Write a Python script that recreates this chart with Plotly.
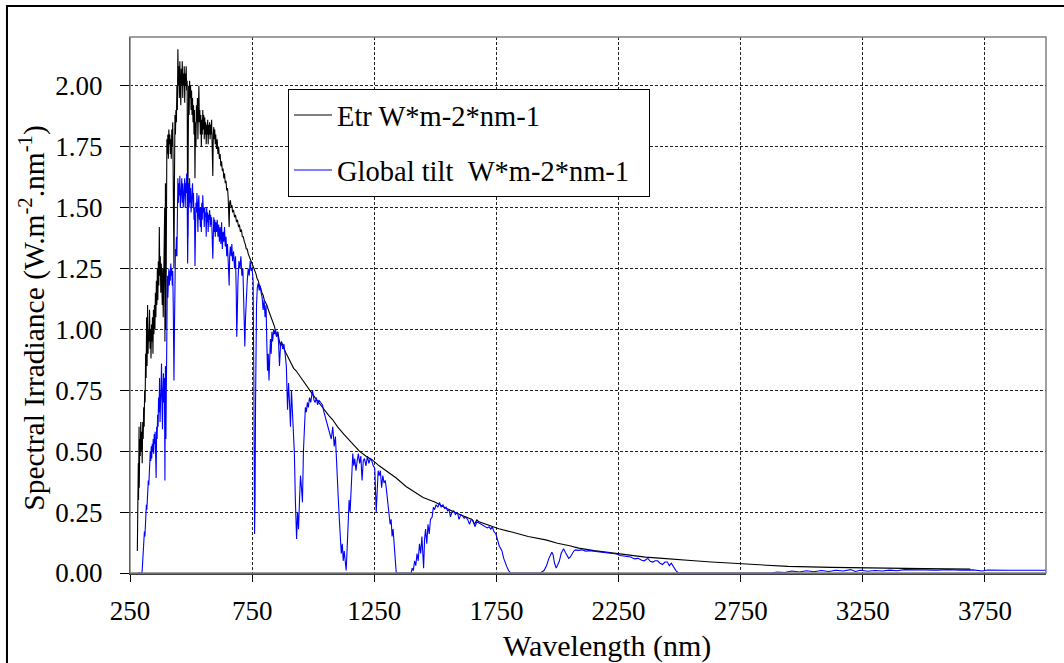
import plotly.graph_objects as go

# Extraterrestrial (ETR) spectrum, W*m-2*nm-1
etr_nm = [280, 281, 282, 284, 285, 287, 288, 290, 292, 294, 296, 298, 300, 302, 304, 306, 308, 310,
          312, 314, 316, 318, 320, 322, 324, 326, 328, 330, 332, 334, 336, 338, 340, 342, 344, 346,
          348, 350, 352, 354, 356, 358, 360, 362, 364, 366, 368, 370, 372, 374, 376, 378, 380, 382,
          384, 386, 388, 390, 392, 393, 395, 397, 399, 401, 403, 405, 407, 409, 411, 413, 415, 417,
          419, 421, 423, 425, 427, 429, 430, 432, 434, 436, 438, 440, 442, 444, 446, 448, 450, 452,
          454, 456, 458, 460, 462, 464, 466, 468, 470, 472, 474, 476, 478, 480, 482, 484, 486, 488,
          490, 492, 494, 496, 498, 500, 502, 504, 506, 508, 510, 512, 514, 516, 518, 520, 522, 524,
          526, 528, 530, 532, 534, 536, 538, 540, 542, 544, 546, 548, 550, 552, 554, 556, 558, 560,
          562, 564, 566, 568, 570, 572, 574, 576, 578, 580, 582, 584, 586, 588, 589, 591, 593, 595,
          597, 599, 601, 604, 607, 610, 613, 616, 619, 622, 625, 628, 631, 634, 637, 640, 643, 646,
          649, 652, 656, 658, 661, 664, 667, 670, 674, 678, 682, 686, 690, 694, 698, 702, 706, 710,
          714, 718, 722, 726, 730, 734, 738, 742, 746, 750, 755, 760, 765, 770, 775, 780, 785, 790,
          795, 800, 810, 820, 830, 842, 850, 855, 860, 866, 870, 880, 890, 903, 910, 920, 930, 940,
          950, 960, 970, 985, 1000, 1015, 1030, 1050, 1065, 1079, 1100, 1125, 1148, 1170, 1189, 1215,
          1242, 1270, 1300, 1340, 1380, 1405, 1450, 1500, 1544, 1600, 1650, 1660, 1670, 1679, 1720,
          1760, 1813, 1880, 1952, 2000, 2050, 2087, 2150, 2222, 2300, 2360, 2430, 2495, 2560, 2630,
          2711, 2822, 2944, 3120, 3340, 3500, 3690]
etr_val = [0.09, 0.25, 0.15, 0.45, 0.30, 0.60, 0.35, 0.55, 0.48, 0.62, 0.50, 0.58, 0.45, 0.62, 0.55,
           0.68, 0.60, 0.75, 0.70, 0.90, 0.80, 1.05, 0.85, 1.10, 0.90, 1.00, 0.95, 1.08, 0.92, 1.00,
           0.88, 1.02, 0.95, 1.05, 0.90, 1.08, 0.98, 1.10, 1.00, 1.15, 1.05, 1.20, 1.10, 1.25, 1.12,
           1.28, 1.18, 1.42, 1.22, 1.30, 1.15, 1.27, 1.20, 1.10, 1.25, 1.05, 1.20, 1.30, 1.50, 0.95,
           1.60, 1.00, 1.70, 1.78, 1.72, 1.80, 1.70, 1.82, 1.76, 1.80, 1.72, 1.78, 1.70, 1.82, 1.75,
           1.85, 1.70, 1.40, 1.25, 1.60, 1.88, 1.80, 1.90, 1.85, 2.00, 1.90, 2.15, 2.00, 2.08, 1.95,
           2.10, 2.00, 1.92, 2.07, 2.00, 2.10, 1.95, 2.05, 2.00, 2.08, 1.93, 2.05, 2.00, 2.08, 1.98,
           2.02, 1.38, 1.90, 2.00, 1.88, 2.02, 1.95, 2.00, 1.90, 1.98, 1.88, 1.95, 1.85, 1.92, 1.80,
           1.90, 1.62, 1.85, 1.75, 1.92, 1.85, 1.95, 1.78, 1.90, 2.00, 1.85, 1.90, 1.80, 1.88, 1.75,
           1.86, 1.80, 1.90, 1.82, 1.88, 1.78, 1.87, 1.80, 1.85, 1.76, 1.84, 1.80, 1.86, 1.76, 1.84,
           1.80, 1.85, 1.78, 1.84, 1.80, 1.86, 1.80, 1.72, 1.63, 1.80, 1.83, 1.78, 1.82, 1.76, 1.80,
           1.74, 1.78, 1.72, 1.75, 1.70, 1.72, 1.67, 1.69, 1.65, 1.66, 1.62, 1.64, 1.60, 1.61, 1.57,
           1.58, 1.54, 1.42, 1.52, 1.53, 1.50, 1.51, 1.48, 1.49, 1.46, 1.47, 1.44, 1.45, 1.42, 1.43,
           1.40, 1.41, 1.38, 1.38, 1.36, 1.35, 1.33, 1.33, 1.31, 1.30, 1.29, 1.28, 1.27, 1.26, 1.24,
           1.23, 1.21, 1.20, 1.18, 1.17, 1.15, 1.14, 1.12, 1.10, 1.07, 1.04, 1.01, 0.97, 0.99, 0.96,
           0.93, 0.95, 0.92, 0.90, 0.875, 0.86, 0.84, 0.83, 0.815, 0.80, 0.785, 0.77, 0.75, 0.73,
           0.71, 0.69, 0.66, 0.645, 0.63, 0.60, 0.57, 0.546, 0.52, 0.50, 0.48, 0.464, 0.44, 0.42,
           0.39, 0.355, 0.34, 0.31, 0.29, 0.266, 0.24, 0.22, 0.20, 0.218, 0.21, 0.195, 0.182, 0.168,
           0.15, 0.136, 0.122, 0.112, 0.102, 0.092, 0.082, 0.072, 0.065, 0.06, 0.054, 0.05, 0.045,
           0.04, 0.033, 0.027, 0.023, 0.019, 0.018, 0.016]

# Global tilt (AM1.5) spectrum, W*m-2*nm-1
glo_nm = [280, 290, 296, 299, 301, 303, 305, 307, 309, 311, 313, 315, 317, 319, 321, 323, 325, 327,
          329, 331, 333, 335, 337, 339, 341, 343, 345, 347, 349, 351, 353, 355, 357, 359, 361, 363,
          365, 367, 369, 371, 373, 375, 377, 379, 381, 383, 385, 387, 389, 391, 393, 395, 397, 399,
          401, 403, 405, 407, 409, 411, 413, 415, 417, 419, 421, 423, 425, 427, 429, 430, 432, 434,
          436, 438, 440, 442, 444, 446, 448, 450, 452, 454, 456, 458, 460, 462, 464, 466, 468, 470,
          472, 474, 476, 478, 480, 482, 484, 486, 488, 490, 492, 494, 496, 498, 500, 502, 504, 506,
          508, 510, 512, 514, 516, 518, 520, 522, 524, 526, 528, 530, 532, 534, 536, 538, 540, 542,
          544, 546, 548, 550, 552, 554, 556, 558, 560, 562, 564, 566, 568, 570, 572, 574, 576, 578,
          580, 582, 584, 586, 588, 589, 591, 593, 595, 597, 599, 601, 604, 607, 610, 613, 616, 619,
          622, 625, 628, 631, 634, 637, 640, 643, 646, 649, 652, 656, 658, 661, 664, 667, 670, 674,
          678, 682, 685, 687, 689, 692, 696, 700, 704, 708, 712, 716, 720, 723, 726, 730, 734, 738,
          742, 746, 750, 754, 757, 760, 762, 764, 766, 768, 771, 775, 779, 783, 787, 791, 795, 799,
          803, 807, 810, 813, 816, 819, 822, 825, 828, 831, 834, 838, 842, 846, 850, 854, 858, 862,
          866, 870, 875, 880, 885, 890, 895, 899, 903, 907, 911, 915, 919, 923, 927, 932, 936, 940,
          944, 948, 952, 956, 960, 964, 968, 972, 976, 980, 985, 990, 997, 1003, 1008, 1013, 1018,
          1023, 1030, 1038, 1044, 1050, 1056, 1062, 1068, 1074, 1080, 1086, 1091, 1095, 1099, 1103,
          1107, 1111, 1115, 1119, 1123, 1127, 1131, 1135, 1139, 1143, 1147, 1151, 1155, 1158, 1162,
          1166, 1170, 1175, 1180, 1185, 1190, 1195, 1200, 1205, 1210, 1216, 1222, 1228, 1234, 1240,
          1246, 1252, 1258, 1262, 1266, 1270, 1275, 1280, 1285, 1290, 1295, 1300, 1305, 1311, 1315,
          1319, 1323, 1327, 1332, 1336, 1340, 1360, 1380, 1401, 1405, 1410, 1415, 1420, 1425, 1430,
          1435, 1440, 1445, 1449, 1452, 1456, 1460, 1465, 1470, 1475, 1480, 1487, 1492, 1497, 1503,
          1510, 1517, 1524, 1531, 1538, 1544, 1550, 1556, 1562, 1568, 1575, 1582, 1590, 1597, 1604,
          1611, 1618, 1625, 1632, 1640, 1647, 1655, 1662, 1670, 1679, 1688, 1697, 1705, 1713, 1720,
          1727, 1733, 1740, 1748, 1755, 1762, 1768, 1773, 1780, 1786, 1793, 1800, 1808, 1900, 1930,
          1945, 1955, 1965, 1972, 1977, 1982, 1988, 1995, 2000, 2008, 2015, 2022, 2025, 2032, 2040,
          2046, 2052, 2060, 2067, 2074, 2085, 2100, 2115, 2130, 2150, 2170, 2190, 2210, 2230, 2242,
          2256, 2270, 2285, 2300, 2315, 2330, 2345, 2355, 2370, 2380, 2390, 2400, 2410, 2420, 2430,
          2440, 2450, 2458, 2466, 2475, 2485, 2495, 2600, 2700, 2800, 2874, 2900, 2930, 2960, 2990,
          3020, 3050, 3080, 3110, 3140, 3170, 3200, 3220, 3240, 3270, 3300, 3330, 3360, 3390, 3420,
          3460, 3500, 3550, 3600, 3650, 3700, 3740, 3760, 3850, 3900, 4000]
glo_val = [0, 0, 0, 0.0, 0.03, 0.08, 0.10, 0.12, 0.17, 0.15, 0.22, 0.20, 0.28, 0.26, 0.33, 0.30,
           0.38, 0.36, 0.44, 0.42, 0.50, 0.46, 0.52, 0.47, 0.53, 0.50, 0.55, 0.49, 0.57, 0.53, 0.58,
           0.50, 0.39, 0.60, 0.55, 0.65, 0.60, 0.72, 0.66, 0.80, 0.62, 0.70, 0.75, 0.86, 0.70, 0.59,
           0.75, 0.82, 0.70, 0.80, 0.38, 0.85, 0.55, 1.00, 1.15, 1.22, 1.13, 1.20, 1.25, 1.18, 1.24,
           1.20, 1.27, 1.22, 1.25, 1.18, 1.24, 1.10, 0.95, 0.79, 1.00, 1.25, 1.33, 1.30, 1.38, 1.30,
           1.42, 1.62, 1.52, 1.60, 1.55, 1.63, 1.50, 1.58, 1.55, 1.62, 1.52, 1.60, 1.50, 1.58, 1.55,
           1.62, 1.50, 1.60, 1.56, 1.64, 1.55, 1.27, 1.55, 1.60, 1.50, 1.62, 1.52, 1.58, 1.48, 1.55,
           1.52, 1.60, 1.50, 1.56, 1.45, 1.50, 1.26, 1.45, 1.52, 1.48, 1.56, 1.50, 1.40, 1.52, 1.55,
           1.45, 1.50, 1.42, 1.50, 1.40, 1.52, 1.45, 1.55, 1.48, 1.50, 1.42, 1.50, 1.46, 1.48, 1.38,
           1.50, 1.44, 1.48, 1.40, 1.47, 1.45, 1.49, 1.42, 1.47, 1.43, 1.46, 1.38, 1.30, 1.29, 1.38,
           1.46, 1.40, 1.45, 1.38, 1.44, 1.40, 1.45, 1.38, 1.43, 1.36, 1.42, 1.35, 1.44, 1.33, 1.40,
           1.36, 1.42, 1.34, 1.38, 1.30, 1.35, 1.28, 1.18, 1.30, 1.34, 1.30, 1.35, 1.28, 1.32, 1.25,
           1.30, 1.15, 0.97, 1.05, 1.20, 1.28, 1.25, 1.30, 1.22, 1.25, 1.10, 0.93, 1.05, 1.15, 1.20,
           1.25, 1.22, 1.28, 1.24, 1.25, 1.20, 0.80, 0.16, 0.30, 0.70, 0.95, 1.10, 1.17, 1.19, 1.16,
           1.18, 1.15, 1.13, 1.08, 1.12, 1.05, 1.10, 0.95, 0.83, 0.90, 0.79, 0.88, 0.96, 0.90, 0.99,
           0.95, 1.00, 0.98, 1.00, 0.97, 0.99, 0.95, 0.85, 0.93, 0.95, 0.92, 0.94, 0.90, 0.85, 0.67,
           0.78, 0.70, 0.60, 0.75, 0.65, 0.55, 0.49, 0.30, 0.14, 0.25, 0.18, 0.30, 0.40, 0.35, 0.29,
           0.50, 0.60, 0.68, 0.66, 0.70, 0.68, 0.72, 0.70, 0.75, 0.71, 0.70, 0.72, 0.69, 0.71, 0.70,
           0.69, 0.66, 0.64, 0.62, 0.60, 0.58, 0.55, 0.60, 0.52, 0.56, 0.49, 0.40, 0.30, 0.22, 0.15,
           0.08, 0.12, 0.05, 0.09, 0.03, 0.01, 0.10, 0.22, 0.30, 0.25, 0.31, 0.40, 0.49, 0.44, 0.47,
           0.42, 0.46, 0.49, 0.45, 0.48, 0.38, 0.46, 0.47, 0.44, 0.48, 0.45, 0.47, 0.46, 0.44, 0.43,
           0.25, 0.38, 0.42, 0.40, 0.42, 0.35, 0.40, 0.37, 0.38, 0.34, 0.30, 0.25, 0.20, 0.22, 0.15,
           0.18, 0.10, 0.05, 0.0, 0.0, 0.0, 0.0, 0.02, 0.01, 0.05, 0.03, 0.08, 0.05, 0.12, 0.08,
           0.15, 0.06, 0.02, 0.14, 0.18, 0.12, 0.20, 0.16, 0.22, 0.23, 0.27, 0.26, 0.28, 0.27, 0.29,
           0.27, 0.28, 0.265, 0.27, 0.255, 0.26, 0.23, 0.25, 0.255, 0.24, 0.25, 0.22, 0.24, 0.235,
           0.225, 0.23, 0.22, 0.20, 0.22, 0.215, 0.19, 0.21, 0.205, 0.20, 0.195, 0.19, 0.185, 0.19,
           0.18, 0.19, 0.17, 0.16, 0.13, 0.11, 0.10, 0.09, 0.06, 0.04, 0.025, 0.01, 0.0, 0.0, 0.0,
           0.01, 0.03, 0.06, 0.08, 0.085, 0.075, 0.04, 0.02, 0.03, 0.05, 0.08, 0.095, 0.10, 0.085,
           0.07, 0.06, 0.065, 0.08, 0.09, 0.095, 0.093, 0.095, 0.09, 0.092, 0.09, 0.087, 0.086,
           0.083, 0.08, 0.078, 0.072, 0.07, 0.067, 0.066, 0.058, 0.06, 0.052, 0.05, 0.06, 0.048,
           0.045, 0.05, 0.05, 0.04, 0.035, 0.045, 0.045, 0.03, 0.04, 0.025, 0.01, 0.0, 0.0, 0.0,
           0.0, 0.0, 0.004, 0.002, 0.008, 0.004, 0.009, 0.005, 0.01, 0.006, 0.011, 0.008, 0.014,
           0.006, 0.011, 0.007, 0.01, 0.008, 0.012, 0.009, 0.014, 0.012, 0.013, 0.012, 0.014, 0.012,
           0.013, 0.008, 0.012, 0.011, 0.011, 0.011]

x_ticks = [250, 750, 1250, 1750, 2250, 2750, 3250, 3750]
y_ticks = [0.0, 0.25, 0.5, 0.75, 1.0, 1.25, 1.5, 1.75, 2.0]
y_labels = ["0.00", "0.25", "0.50", "0.75", "1.00", "1.25", "1.50", "1.75", "2.00"]

FONT = "Liberation Serif, Times New Roman, serif"

fig = go.Figure()
fig.add_trace(go.Scatter(
    x=etr_nm, y=etr_val, mode="lines", name="Etr W*m-2*nm-1",
    line=dict(color="#000000", width=1.1), legendgroup="etr",
))
fig.add_trace(go.Scatter(
    x=glo_nm, y=glo_val, mode="lines",
    name="Global tilt\u00a0\u00a0W*m-2*nm-1\u00a0\u00a0",
    line=dict(color="#0000FF", width=1.1), legendgroup="glo",
))

fig.update_layout(
    width=1064, height=663,
    margin=dict(l=130, r=18, t=37, b=90, autoexpand=False),
    paper_bgcolor="white", plot_bgcolor="white",
    font=dict(family=FONT, size=27, color="black"),
    showlegend=True,
    legend=dict(
        x=0.1725, y=0.903, xanchor="left", yanchor="top",
        bgcolor="white", bordercolor="black", borderwidth=1,
        font=dict(family=FONT, size=28.5), tracegroupgap=15,
        itemwidth=38, traceorder="grouped",
    ),
    shapes=[
        # plot frame
        dict(type="rect", xref="paper", yref="paper", x0=0, y0=0, x1=1, y1=1,
             line=dict(color="#808080", width=1.5), layer="above"),
        # chart border
        dict(type="rect", xref="paper", yref="paper", x0=-0.1343, y0=-0.2, x1=1.03, y1=1.0578,
             line=dict(color="black", width=2), layer="above"),
    ],
    annotations=[
        dict(text="Spectral Irradiance (W.m<sup>-2</sup>.nm<sup>-1</sup>)",
             xref="paper", yref="paper", x=-0.106, y=0.476,
             xanchor="center", yanchor="middle", textangle=-90, showarrow=False,
             font=dict(family=FONT, size=29.5)),
        dict(text="Wavelength (nm)",
             xref="paper", yref="paper", x=0.5207, y=-0.136,
             xanchor="center", yanchor="middle", showarrow=False,
             font=dict(family=FONT, size=30)),
    ],
)

fig.update_xaxes(
    range=[250, 4000], tickvals=x_ticks, ticktext=[str(v) for v in x_ticks],
    showgrid=True, gridcolor="#222222", gridwidth=1, griddash="3px,2px",
    ticks="outside", ticklen=7, tickcolor="black", tickwidth=1,
    showline=True, linecolor="#404040", linewidth=2,
    zeroline=False, tickfont=dict(family=FONT, size=27), ticklabelstandoff=6,
)
fig.update_yaxes(
    range=[0, 2.2], tickvals=y_ticks, ticktext=y_labels,
    showgrid=True, gridcolor="#222222", gridwidth=1, griddash="3px,2px",
    ticks="outside", ticklen=9, tickcolor="black", tickwidth=1,
    showline=True, linecolor="black", linewidth=1,
    zeroline=False, tickfont=dict(family=FONT, size=27), ticklabelstandoff=12,
)

fig.write_html("out.html")
